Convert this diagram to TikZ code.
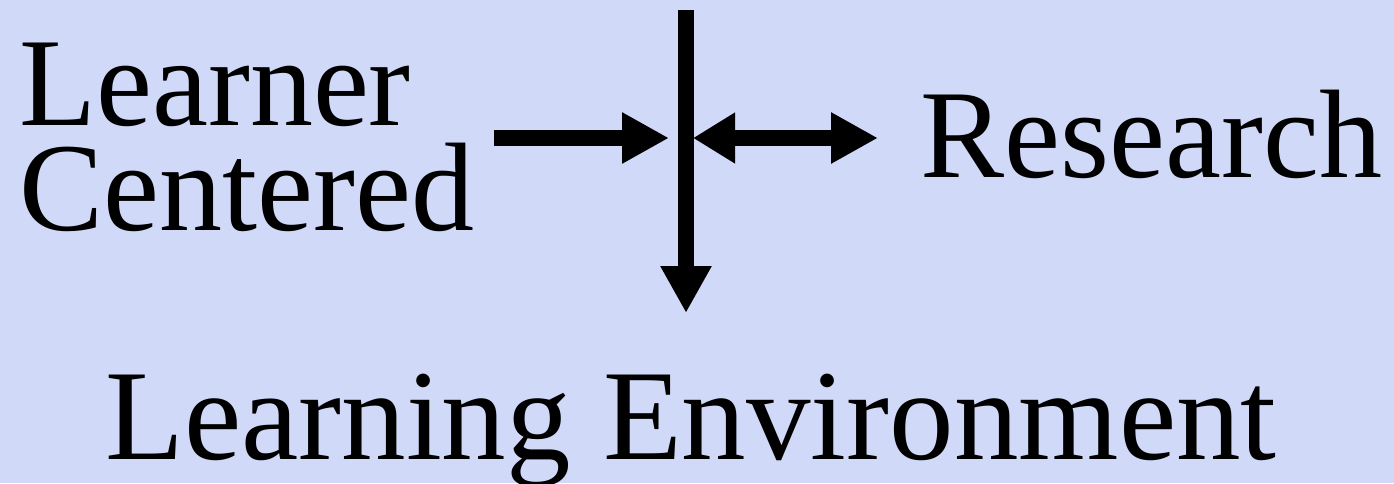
\documentclass[tikz,border=0pt]{standalone}
\usepackage{fontspec}
\setmainfont{Liberation Serif}
\usetikzlibrary{arrows.meta}
\definecolor{bgblue}{RGB}{208,217,247}

\begin{document}
\begin{tikzpicture}[x=1pt,y=-1pt,
  lbl/.style={inner sep=0pt,font=\fontsize{126pt}{105pt}\selectfont},
  arr/.style={line width=15.5pt,-{Triangle[length=47pt,width=48pt]}},
  darr/.style={line width=15.5pt,{Triangle[length=42pt,width=48pt]}-{Triangle[length=47pt,width=48pt]}}]
\fill[bgblue] (0,0) rectangle (1394,483);
\useasboundingbox (0,0) rectangle (1394,483);
\node[lbl,anchor=base west,align=left] (lc) at (19,230) {Learner\\Centered};
\node[lbl,anchor=base west] (res) at (920,177) {Research};
\node[lbl,anchor=base west,font=\fontsize{129pt}{129pt}\selectfont] (le) at (105,459) {Learning Environment};
\coordinate (top) at (686,10); \coordinate (hub) at (686,138);
\coordinate (lcend) at (494,138); \coordinate (resend) at (878,138);
\coordinate (leend) at (686,313);
\draw[arr] (lcend) -- ([xshift=-17pt]hub);
\draw[darr] ([xshift=7pt]hub) -- (resend);
\draw[arr] (top) -- (leend);
\end{tikzpicture}
\end{document}
